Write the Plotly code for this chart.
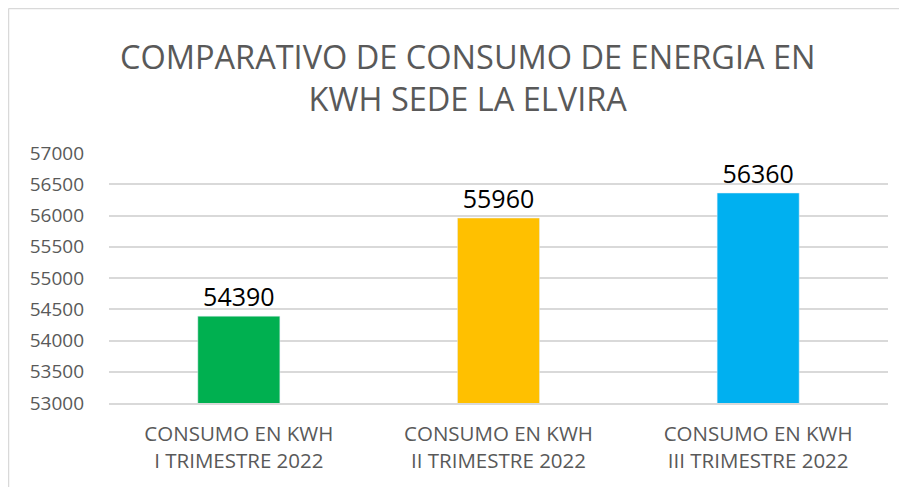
import plotly.graph_objects as go

categories = ["CONSUMO EN KWH<br>I TRIMESTRE 2022",
              "CONSUMO EN KWH<br>II TRIMESTRE 2022",
              "CONSUMO EN KWH<br>III TRIMESTRE 2022"]
values = [54390, 55960, 56360]
colors = ["#00B050", "#FFC000", "#00B0F0"]
title_text = "COMPARATIVO DE CONSUMO DE ENERGIA EN<br>KWH SEDE LA ELVIRA"

# page is offset by 8px body margin; figure coords below
W, H = 899, 479
L, R, T, B = 101, 880, 145, 395

def px(x):
    return (x - L) / (R - L)

def py(y):
    return (B - y) / (B - T)

fig = go.Figure(go.Bar(
    x=categories, y=values, marker_color=colors, width=0.316,
    text=[str(v) for v in values], textposition="outside",
    textfont=dict(size=25, color="#000000", family="Open Sans"),
    cliponaxis=False,
))

fig.update_layout(
    width=W, height=H,
    margin=dict(l=L, r=W - R, t=T, b=H - B),
    paper_bgcolor="white", plot_bgcolor="white",
    font=dict(family="Open Sans", color="#595959"),
    showlegend=False,
    xaxis=dict(showline=True, linecolor="#d9d9d9", linewidth=1.5,
               tickfont=dict(size=20.5, color="#595959"), ticks="",
               ticklabelstandoff=12),
    yaxis=dict(range=[53000, 57000], dtick=500, showgrid=True,
               gridcolor="#d9d9d9", gridwidth=1.5, zeroline=False,
               tickfont=dict(size=19, color="#595959"), ticks="",
               ticklabelstandoff=24, tickformat="d"),
    annotations=[dict(text=title_text, x=px(460), y=py(70), xref="paper", yref="paper",
                      showarrow=False, font=dict(size=32.5, color="#595959"),
                      xanchor="center", yanchor="middle", align="center")],
    shapes=[dict(type="line", xref="paper", yref="paper",
                 x0=px(0.5), x1=px(0.5), y0=py(H), y1=py(0.5),
                 line=dict(color="#d9d9d9", width=1.5)),
            dict(type="line", xref="paper", yref="paper",
                 x0=px(0.5), x1=px(W), y0=py(0.5), y1=py(0.5),
                 line=dict(color="#d9d9d9", width=1.5))],
)

fig.write_html("out.html")
